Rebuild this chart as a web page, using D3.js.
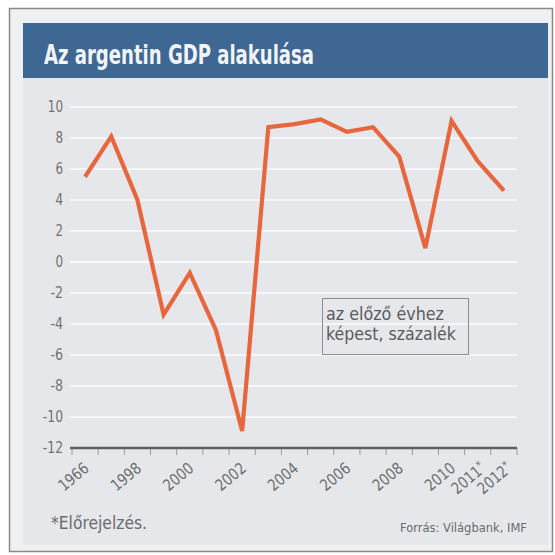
<!DOCTYPE html>
<html>
<head>
<meta charset="utf-8">
<script src="https://cdn.jsdelivr.net/npm/d3@7"></script>
<style>
  html, body { margin: 0; padding: 0; background: #ffffff; }
  svg { display: block; }
  .narrow { font-family: "DejaVu Sans Condensed", "Liberation Sans Narrow", "Liberation Sans", sans-serif; }
</style>
</head>
<body>
<svg id="chart" width="555" height="555"></svg>
<script>
// Argentine GDP, annual change (%)
const years = [1996, 1997, 1998, 1999, 2000, 2001, 2002, 2003, 2004, 2005, 2006, 2007, 2008, 2009, 2010, 2011, 2012];
const growth = [5.5, 8.1, 4.0, -3.4, -0.7, -4.4, -10.9, 8.7, 8.9, 9.2, 8.4, 8.7, 6.8, 0.9, 9.1, 6.5, 4.6];

// labelled years and the text printed under them
const labelYears = [1996, 1998, 2000, 2002, 2004, 2006, 2008, 2010, 2011, 2012];
const labelTexts = ["1966", "1998", "2000", "2002", "2004", "2006", "2008", "2010", "2011", "2012"];
const forecastYears = [2011, 2012];

const yTicks = [10, 8, 6, 4, 2, 0, -2, -4, -6, -8, -10, -12];

const title = "Az argentin GDP alakulása";
const noteLines = ["az előző évhez", "képest, százalék"];
const footnote = "*Előrejelzés.";
const source = "Forrás: Világbank, IMF";

const svg = d3.select("#chart");

// squeeze a text to a given width (the print face is a condensed one)
function fit(sel, w) {
  sel.attr("textLength", w).attr("lengthAdjust", "spacingAndGlyphs");
}

// frame and panels
svg.append("rect").attr("x", 9.5).attr("y", 8.5).attr("width", 543).attr("height", 543)
  .attr("fill", "#eef0f1").attr("stroke", "#8a8a8a").attr("stroke-width", 1.5);
svg.append("rect").attr("x", 23).attr("y", 78).attr("width", 525).attr("height", 467)
  .attr("fill", "#e6e7ea");
svg.append("rect").attr("x", 23).attr("y", 23).attr("width", 525).attr("height", 55)
  .attr("fill", "#3e6793");
svg.append("text").attr("class", "narrow")
  .attr("x", 44).attr("y", 64)
  .attr("fill", "#f2f4f7").attr("font-size", 27).attr("font-weight", "bold")
  .text(title).call(fit, 270);

// scales
const x = d3.scaleBand().domain(years).range([72, 517]).padding(0);
const y = d3.scaleLinear().domain([-12, 10]).range([448, 107]);
const cx = d => x(d) + x.bandwidth() / 2;

// horizontal gridlines
svg.append("g")
  .selectAll("line").data(yTicks.filter(t => t > -12)).join("line")
  .attr("x1", 70).attr("x2", 517)
  .attr("y1", d => y(d)).attr("y2", d => y(d))
  .attr("stroke", "#fbfbfc").attr("stroke-width", d => d === 0 ? 2.2 : 1.4);

// y axis labels
const yAxis = d3.axisLeft(y).tickValues(yTicks).tickSize(0).tickPadding(0)
  .tickFormat(d => String(d));
const gy = svg.append("g").attr("transform", "translate(63,0)").call(yAxis);
gy.select(".domain").remove();
gy.selectAll("text").attr("class", "narrow").attr("font-size", 15).attr("fill", "#707274")
  .attr("font-family", null)
  .each(function (d) {
    const s = String(d);
    const w = s.replace("-", "").length * 7.6 + (d < 0 ? 5 : 0);
    d3.select(this).call(fit, w);
  });

// x axis: ticks at year boundaries
const boundaries = years.map(d => x(d)).concat([x(years[years.length - 1]) + x.bandwidth()]);
svg.append("g").selectAll("line").data(boundaries).join("line")
  .attr("x1", d => d).attr("x2", d => d)
  .attr("y1", 448).attr("y2", 455)
  .attr("stroke", "#9a9a9c").attr("stroke-width", 1);
svg.append("line").attr("x1", 70).attr("x2", 517).attr("y1", 448).attr("y2", 448)
  .attr("stroke", "#5f6062").attr("stroke-width", 2.6);

// rotated year labels
const xl = svg.append("g").selectAll("text").data(labelYears).join("text")
  .attr("class", "narrow")
  .attr("font-size", 16).attr("fill", "#6e7072")
  .attr("text-anchor", "end")
  .attr("transform", d => `translate(${cx(d) + (forecastYears.includes(d) ? 9 : 5)},${470}) rotate(-40)`);
xl.append("tspan").text((d, i) => labelTexts[i]).call(fit, 34);
xl.filter(d => forecastYears.includes(d)).append("tspan")
  .attr("dy", -5).attr("font-size", 11).text("*");

// GDP line
const line = d3.line().x((d, i) => cx(years[i])).y(d => y(d));
svg.append("path").datum(growth)
  .attr("d", line)
  .attr("fill", "none")
  .attr("stroke", "#e8663d")
  .attr("stroke-width", 4.2)
  .attr("stroke-linejoin", "miter")
  .attr("stroke-linecap", "butt");

// unit note
svg.append("rect").attr("x", 322.5).attr("y", 298.5).attr("width", 146).attr("height", 56)
  .attr("fill", "none").attr("stroke", "#8c8d90").attr("stroke-width", 1);
svg.append("g").selectAll("text").data(noteLines).join("text")
  .attr("class", "narrow")
  .attr("x", 326).attr("y", (d, i) => 320 + i * 20)
  .attr("font-size", 18).attr("fill", "#5a5b5e")
  .text(d => d)
  .each(function (d, i) { d3.select(this).call(fit, i === 0 ? 118 : 130); });

// footnote and source
svg.append("text").attr("class", "narrow").attr("x", 51).attr("y", 529)
  .attr("font-size", 17).attr("fill", "#6a6b6e").text(footnote).call(fit, 96);
svg.append("text").attr("class", "narrow").attr("x", 527).attr("y", 532)
  .attr("text-anchor", "end")
  .attr("font-size", 13).attr("fill", "#6a6b6e").text(source).call(fit, 127);
</script>
</body>
</html>
